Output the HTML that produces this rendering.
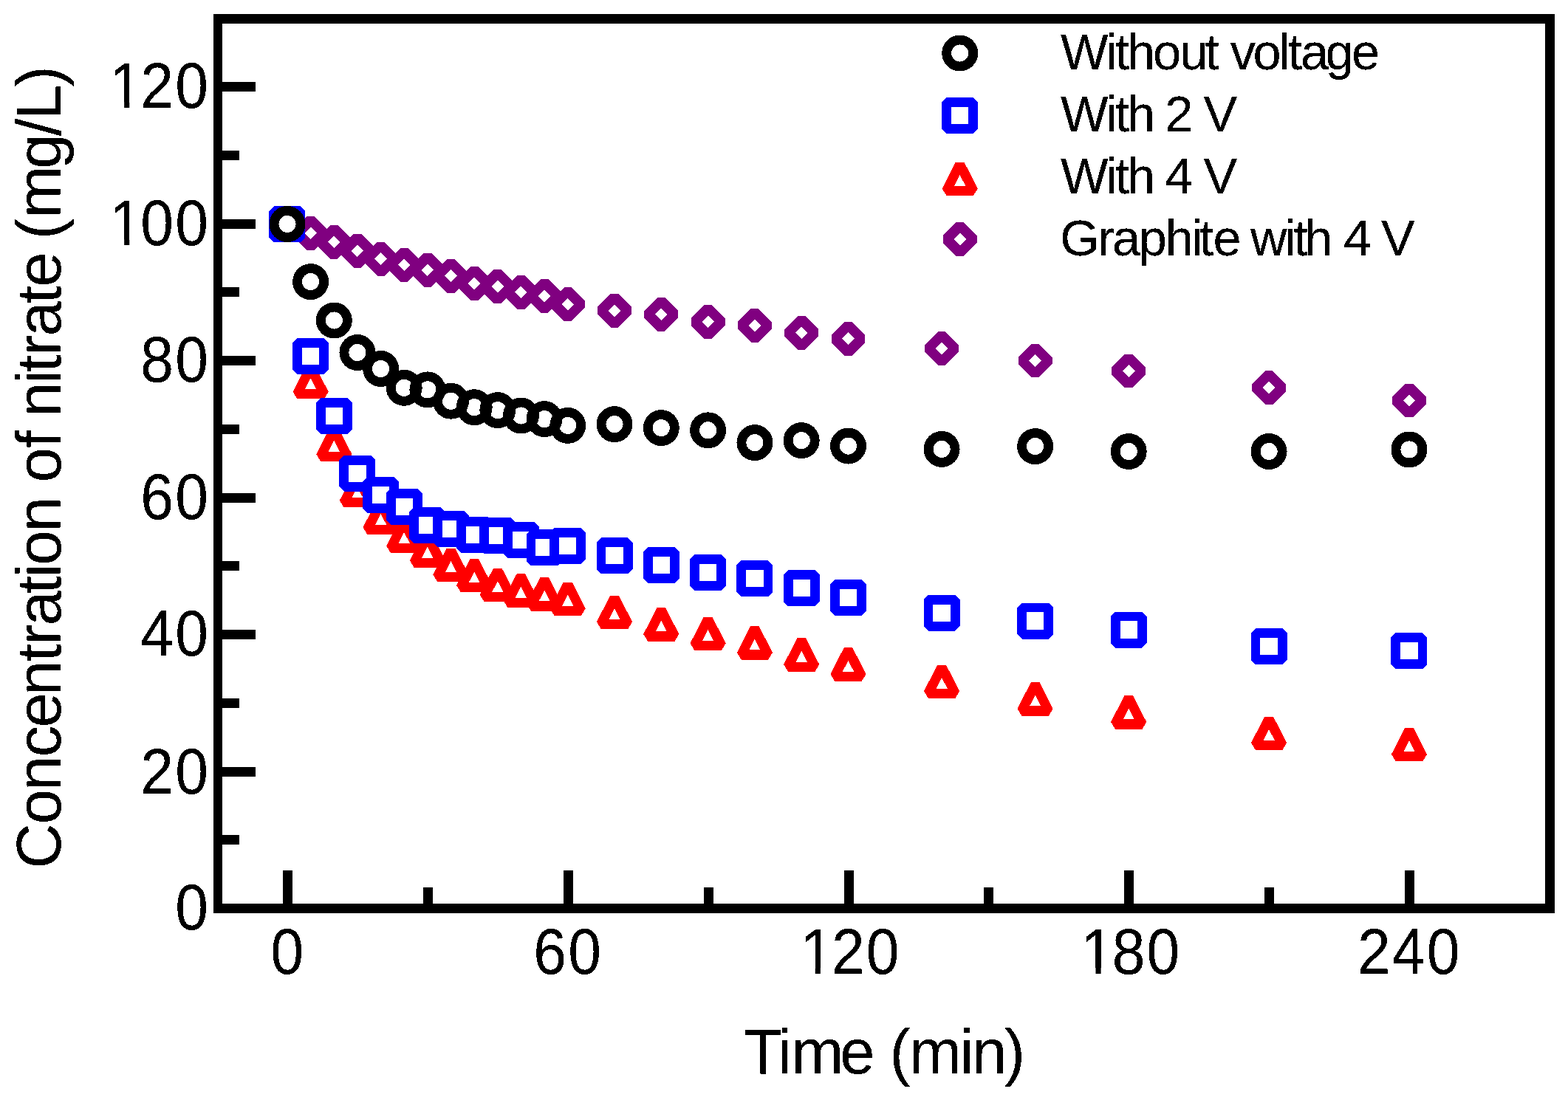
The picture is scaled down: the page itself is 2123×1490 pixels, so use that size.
<!DOCTYPE html>
<html lang="en">
<head>
<meta charset="utf-8">
<title>Concentration of nitrate vs time</title>
<style>
html,body{margin:0;padding:0;background:#fff;}
body{width:2123px;height:1490px;overflow:hidden;}
svg{display:block;}
text{font-family:"Liberation Sans",sans-serif;fill:#000;font-kerning:none;filter:url(#bw);}
.tick{font-size:86.3px;}
.title{font-size:85px;}
.leg{font-size:68.5px;}
.m *{fill:none;stroke-width:12.9;stroke-linejoin:bevel;shape-rendering:crispEdges;}
.purple *{stroke:#800080;stroke-width:13.8;}
.red *{stroke:#ff0000;stroke-width:13.1;}
.blue *{stroke:#0000ff;fill:#fff;}
.black *{stroke:#000;}
.ax{stroke:#000;fill:none;shape-rendering:crispEdges;}
</style>
</head>
<body>
<svg width="2123" height="1490" viewBox="0 0 2123 1490" role="img" aria-label="Concentration of nitrate (mg/L) versus time (min)">
<defs><filter id="bw" x="-10%" y="-10%" width="120%" height="120%" color-interpolation-filters="sRGB"><feComponentTransfer><feFuncA type="discrete" tableValues="0 0 1 1 1"/></feComponentTransfer></filter></defs>
<rect x="0" y="0" width="2123" height="1490" fill="#fff"/>

<g class="m">
<g class="purple">
<polygon points="389.0,285.4 407.1,303.5 389.0,321.6 370.9,303.5"/><polygon points="420.6,297.7 438.7,315.8 420.6,333.9 402.5,315.8"/><polygon points="452.3,309.7 470.4,327.8 452.3,345.9 434.2,327.8"/><polygon points="483.9,321.6 502.0,339.7 483.9,357.8 465.8,339.7"/><polygon points="515.6,332.5 533.7,350.6 515.6,368.7 497.5,350.6"/><polygon points="547.2,340.7 565.3,358.8 547.2,376.9 529.1,358.8"/><polygon points="578.9,347.5 597.0,365.6 578.9,383.7 560.8,365.6"/><polygon points="610.5,355.7 628.6,373.8 610.5,391.9 592.4,373.8"/><polygon points="642.2,365.9 660.3,384.0 642.2,402.1 624.1,384.0"/><polygon points="673.8,369.9 691.9,388.0 673.8,406.1 655.7,388.0"/><polygon points="705.4,377.7 723.5,395.8 705.4,413.9 687.3,395.8"/><polygon points="737.1,382.7 755.2,400.8 737.1,418.9 719.0,400.8"/><polygon points="768.7,394.2 786.8,412.3 768.7,430.4 750.6,412.3"/><polygon points="832.0,402.7 850.1,420.8 832.0,438.9 813.9,420.8"/><polygon points="895.3,407.7 913.4,425.8 895.3,443.9 877.2,425.8"/><polygon points="958.6,417.7 976.7,435.8 958.6,453.9 940.5,435.8"/><polygon points="1021.9,422.7 1040.0,440.8 1021.9,458.9 1003.8,440.8"/><polygon points="1085.2,432.7 1103.3,450.8 1085.2,468.9 1067.1,450.8"/><polygon points="1148.5,440.7 1166.6,458.8 1148.5,476.9 1130.4,458.8"/><polygon points="1275.1,453.9 1293.2,472.0 1275.1,490.1 1257.0,472.0"/><polygon points="1401.6,470.4 1419.7,488.5 1401.6,506.6 1383.5,488.5"/><polygon points="1528.2,484.4 1546.3,502.5 1528.2,520.6 1510.1,502.5"/><polygon points="1718.1,507.1 1736.2,525.2 1718.1,543.3 1700.0,525.2"/><polygon points="1908.0,524.4 1926.1,542.5 1908.0,560.6 1889.9,542.5"/>
</g>
<g class="red">
<polygon points="389.0,285.5 407.3,321.2 370.7,321.2"/><polygon points="420.6,498.0 438.9,533.7 402.3,533.7"/><polygon points="452.3,582.5 470.6,618.2 434.0,618.2"/><polygon points="483.9,645.2 502.2,680.9 465.6,680.9"/><polygon points="515.6,681.6 533.9,717.3 497.3,717.3"/><polygon points="547.2,706.7 565.5,742.4 528.9,742.4"/><polygon points="578.9,726.4 597.2,762.1 560.6,762.1"/><polygon points="610.5,745.7 628.8,781.4 592.2,781.4"/><polygon points="642.2,760.1 660.5,795.8 623.9,795.8"/><polygon points="673.8,772.8 692.1,808.5 655.5,808.5"/><polygon points="705.4,780.4 723.7,816.1 687.1,816.1"/><polygon points="737.1,785.3 755.4,821.0 718.8,821.0"/><polygon points="768.7,791.5 787.0,827.2 750.4,827.2"/><polygon points="832.0,809.7 850.3,845.4 813.7,845.4"/><polygon points="895.3,826.3 913.6,862.0 877.0,862.0"/><polygon points="958.6,838.7 976.9,874.4 940.3,874.4"/><polygon points="1021.9,851.3 1040.2,887.0 1003.6,887.0"/><polygon points="1085.2,867.4 1103.5,903.1 1066.9,903.1"/><polygon points="1148.5,880.4 1166.8,916.1 1130.2,916.1"/><polygon points="1275.1,903.5 1293.4,939.2 1256.8,939.2"/><polygon points="1401.6,927.3 1419.9,963.0 1383.3,963.0"/><polygon points="1528.2,945.3 1546.5,981.0 1509.9,981.0"/><polygon points="1718.1,973.5 1736.4,1009.2 1699.8,1009.2"/><polygon points="1908.0,989.0 1926.3,1024.7 1889.7,1024.7"/>
</g>
<g class="blue">
<rect x="370.9" y="285.6" width="36.1" height="36.1"/><rect x="402.6" y="464.3" width="36.1" height="36.1"/><rect x="434.2" y="545.6" width="36.1" height="36.1"/><rect x="465.9" y="623.2" width="36.1" height="36.1"/><rect x="497.5" y="652.7" width="36.1" height="36.1"/><rect x="529.2" y="668.1" width="36.1" height="36.1"/><rect x="560.8" y="693.6" width="36.1" height="36.1"/><rect x="592.5" y="698.6" width="36.1" height="36.1"/><rect x="624.1" y="706.1" width="36.1" height="36.1"/><rect x="655.8" y="707.8" width="36.1" height="36.1"/><rect x="687.4" y="713.6" width="36.1" height="36.1"/><rect x="719.0" y="723.6" width="36.1" height="36.1"/><rect x="750.7" y="721.6" width="36.1" height="36.1"/><rect x="814.0" y="734.7" width="36.1" height="36.1"/><rect x="877.3" y="747.6" width="36.1" height="36.1"/><rect x="940.6" y="757.6" width="36.1" height="36.1"/><rect x="1003.9" y="765.5" width="36.1" height="36.1"/><rect x="1067.1" y="778.6" width="36.1" height="36.1"/><rect x="1130.4" y="791.1" width="36.1" height="36.1"/><rect x="1257.0" y="812.1" width="36.1" height="36.1"/><rect x="1383.6" y="823.0" width="36.1" height="36.1"/><rect x="1510.2" y="835.0" width="36.1" height="36.1"/><rect x="1700.0" y="857.5" width="36.1" height="36.1"/><rect x="1889.9" y="863.5" width="36.1" height="36.1"/>
</g>
<g class="black">
<circle cx="389.0" cy="303.5" r="18.0"/><circle cx="420.6" cy="381.6" r="18.0"/><circle cx="452.3" cy="434.0" r="18.0"/><circle cx="483.9" cy="477.5" r="18.0"/><circle cx="515.6" cy="499.5" r="18.0"/><circle cx="547.2" cy="525.3" r="18.0"/><circle cx="578.9" cy="527.9" r="18.0"/><circle cx="610.5" cy="543.2" r="18.0"/><circle cx="642.2" cy="551.7" r="18.0"/><circle cx="673.8" cy="555.6" r="18.0"/><circle cx="705.4" cy="563.0" r="18.0"/><circle cx="737.1" cy="567.6" r="18.0"/><circle cx="768.7" cy="576.4" r="18.0"/><circle cx="832.0" cy="574.6" r="18.0"/><circle cx="895.3" cy="579.6" r="18.0"/><circle cx="958.6" cy="582.8" r="18.0"/><circle cx="1021.9" cy="599.6" r="18.0"/><circle cx="1085.2" cy="596.6" r="18.0"/><circle cx="1148.5" cy="604.1" r="18.0"/><circle cx="1275.1" cy="608.4" r="18.0"/><circle cx="1401.6" cy="604.6" r="18.0"/><circle cx="1528.2" cy="611.5" r="18.0"/><circle cx="1718.1" cy="611.5" r="18.0"/><circle cx="1908.0" cy="609.0" r="18.0"/>
</g>
</g>
<g fill="#000" shape-rendering="crispEdges">
<rect x="289" y="19" width="1816" height="13"/><rect x="289" y="1224" width="1816" height="13"/><rect x="289" y="19" width="12" height="1218"/><rect x="2092" y="19" width="13" height="1218"/>
<rect x="301" y="1131" width="23" height="13"/>
<rect x="301" y="1039" width="45" height="13"/>
<rect x="301" y="946" width="23" height="13"/>
<rect x="301" y="853" width="45" height="13"/>
<rect x="301" y="760" width="23" height="13"/>
<rect x="301" y="668" width="45" height="13"/>
<rect x="301" y="575" width="23" height="13"/>
<rect x="301" y="482" width="45" height="13"/>
<rect x="301" y="389" width="23" height="13"/>
<rect x="301" y="297" width="45" height="13"/>
<rect x="301" y="204" width="23" height="13"/>
<rect x="301" y="111" width="45" height="13"/>
<rect x="383" y="1179" width="13" height="45"/>
<rect x="573" y="1202" width="13" height="22"/>
<rect x="763" y="1179" width="13" height="45"/>
<rect x="953" y="1202" width="13" height="22"/>
<rect x="1143" y="1179" width="13" height="45"/>
<rect x="1332" y="1202" width="13" height="22"/>
<rect x="1522" y="1179" width="13" height="45"/>
<rect x="1712" y="1202" width="13" height="22"/>
<rect x="1902" y="1179" width="13" height="45"/>
</g>
<g>
<text class="tick" transform="translate(237.2,1259.0) scale(0.932,1)" x="0.0" y="0">0</text>
<text class="tick" transform="translate(190.3,1074.5) scale(0.932,1)" x="0.0 50.3" y="0">20</text>
<text class="tick" transform="translate(190.3,888.0) scale(0.932,1)" x="0.0 50.3" y="0">40</text>
<text class="tick" transform="translate(190.3,702.5) scale(0.932,1)" x="0.0 50.3" y="0">60</text>
<text class="tick" transform="translate(190.3,517.0) scale(0.932,1)" x="0.0 50.3" y="0">80</text>
<text class="tick" transform="translate(147.9,332.2) scale(0.932,1)" x="0.0 45.5 95.8" y="0">100</text><rect x="152.87" y="324.25" width="15.28" height="9.45" fill="#fff"/><rect x="175.25" y="324.25" width="14.65" height="9.45" fill="#fff"/>
<text class="tick" transform="translate(147.9,146.1) scale(0.932,1)" x="0.0 45.5 95.8" y="0">120</text><rect x="152.87" y="138.15" width="15.28" height="9.45" fill="#fff"/><rect x="175.25" y="138.15" width="14.65" height="9.45" fill="#fff"/>
<text class="tick" transform="translate(366.4,1319.0) scale(0.932,1)" x="0.0" y="0">0</text>
<text class="tick" transform="translate(722.3,1319.0) scale(0.932,1)" x="0.0 50.3" y="0">60</text>
<text class="tick" transform="translate(1083.5,1319.0) scale(0.932,1)" x="0.0 45.5 95.8" y="0">120</text><rect x="1088.47" y="1311.05" width="15.28" height="9.45" fill="#fff"/><rect x="1110.86" y="1311.05" width="14.65" height="9.45" fill="#fff"/>
<text class="tick" transform="translate(1463.3,1319.0) scale(0.932,1)" x="0.0 45.5 95.8" y="0">180</text><rect x="1468.21" y="1311.05" width="15.28" height="9.45" fill="#fff"/><rect x="1490.60" y="1311.05" width="14.65" height="9.45" fill="#fff"/>
<text class="tick" transform="translate(1838.0,1319.0) scale(0.932,1)" x="0.0 50.3 100.6" y="0">240</text>
</g>
<text class="title" x="1007.2 1053.1 1071.4 1137.2 1181.3 1204.6 1231.1 1299.3 1316.1 1359.7" y="1454">Time (min)</text>
<g transform="translate(81.8,1170.8) rotate(-90)"><text class="title" x="-5.8 54.4 99.7 145.5 185.5 228.8 274.9 297.0 323.6 367.1 388.8 405.3 450.5 493.5 517.4 564.3 582.3 605.9 650.9 666.8 689.0 715.6 760.1 782.3 826.8 846.7 875.6 942.2 986.7 1008.9 1053.3" y="0">Concentration of nitrate (mg/L)</text></g>
<g class="m">
<g class="purple"><polygon points="1299.7,305.9 1317.8,324.0 1299.7,342.1 1281.6,324.0"/></g>
<g class="red"><polygon points="1299.7,222.7 1318.0,258.4 1281.4,258.4"/></g>
<g class="blue"><rect x="1281.7" y="138.4" width="36.1" height="36.1"/></g>
<g class="black"><circle cx="1299.7" cy="72.0" r="18.0"/></g>
</g>
<g>
<text class="leg" x="1435.9 1497.4 1510.0 1526.1 1560.9 1597.6 1631.6 1647.8 1665.7 1696.4 1731.2 1744.0 1760.9 1794.7 1829.9" y="94.1">Without voltage</text>
<text class="leg" x="1435.9 1497.4 1510.0 1526.1 1560.9 1577.3 1613.0 1629.4" y="178.0">With 2 V</text>
<text class="leg" x="1435.9 1497.4 1510.0 1526.1 1560.9 1577.3 1613.0 1629.4" y="261.9">With 4 V</text>
<text class="leg" x="1435.3 1486.3 1505.9 1541.8 1577.8 1613.8 1624.0 1642.6 1675.0 1693.0 1739.4 1751.4 1766.3 1803.5 1819.1 1855.6 1870.0" y="345.8">Graphite with 4 V</text>
</g>
</svg>
</body>
</html>
